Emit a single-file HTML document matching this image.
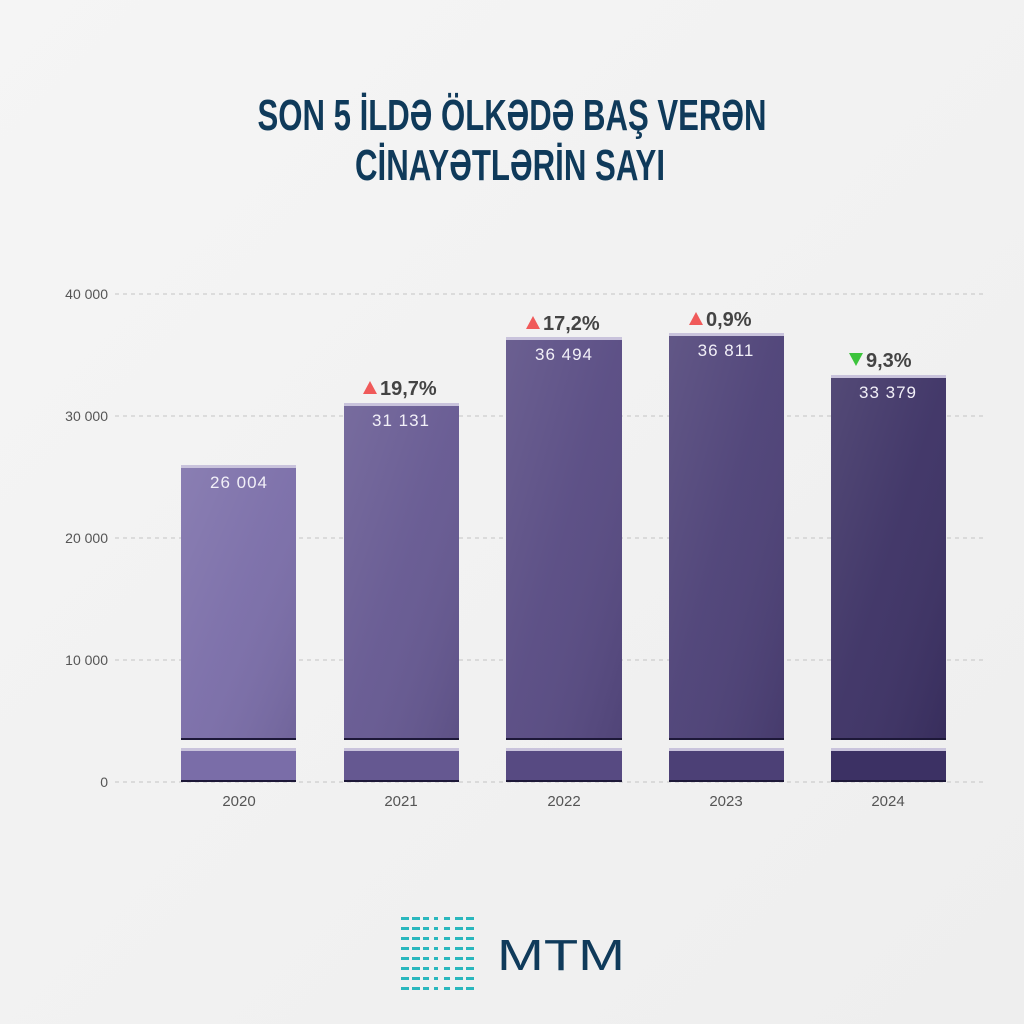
<!DOCTYPE html>
<html><head><meta charset="utf-8"><style>
html,body{margin:0;padding:0;background:#f2f2f2;}
svg{display:block}
</style></head><body>
<svg width="1024" height="1024" viewBox="0 0 1024 1024" xmlns="http://www.w3.org/2000/svg" font-family="Liberation Sans, DejaVu Sans, sans-serif">
<defs>
<linearGradient id="bg" x1="0" y1="0" x2="1" y2="1"><stop offset="0" stop-color="#f5f5f5"/><stop offset="1" stop-color="#eeeeee"/></linearGradient>
<linearGradient id="sh" x1="0" y1="0" x2="1" y2="1"><stop offset="0" stop-color="#fff" stop-opacity="0.12"/><stop offset="0.5" stop-color="#fff" stop-opacity="0.04"/><stop offset="1" stop-color="#000" stop-opacity="0.08"/></linearGradient>
</defs>
<rect width="1024" height="1024" fill="url(#bg)"/>
<g fill="#0f3a5a" font-weight="bold" font-size="44" text-anchor="middle">
<text x="512" y="130" textLength="509" lengthAdjust="spacingAndGlyphs">SON 5 İLDƏ ÖLKƏDƏ BAŞ VERƏN</text>
<text x="510" y="180" textLength="310" lengthAdjust="spacingAndGlyphs">CİNAYƏTLƏRİN SAYI</text>
</g>
<g stroke="#c4c4c4" stroke-dasharray="4 4" stroke-width="1">
<line x1="115" y1="294" x2="985" y2="294"/><line x1="115" y1="416" x2="985" y2="416"/>
<line x1="115" y1="538" x2="985" y2="538"/><line x1="115" y1="660" x2="985" y2="660"/>
<line x1="115" y1="782" x2="985" y2="782"/>
</g>
<g fill="#555" font-size="14" text-anchor="end">
<text x="108" y="299">40 000</text><text x="108" y="421">30 000</text><text x="108" y="543">20 000</text><text x="108" y="665">10 000</text><text x="108" y="787">0</text>
</g>
<!-- bars -->
<g>
<rect x="181" y="465" width="115" height="275" fill="#7a6da8"/><rect x="181" y="748" width="115" height="34" fill="#7a6da8"/>
<rect x="344" y="403" width="115" height="337" fill="#655891"/><rect x="344" y="748" width="115" height="34" fill="#655891"/>
<rect x="506" y="337" width="116" height="403" fill="#574a82"/><rect x="506" y="748" width="116" height="34" fill="#574a82"/>
<rect x="669" y="333" width="115" height="407" fill="#4c4076"/><rect x="669" y="748" width="115" height="34" fill="#4c4076"/>
<rect x="831" y="375" width="115" height="365" fill="#3c3164"/><rect x="831" y="748" width="115" height="34" fill="#3c3164"/>
</g>
<g fill="url(#sh)">
<rect x="181" y="465" width="115" height="275"/><rect x="344" y="403" width="115" height="337"/><rect x="506" y="337" width="116" height="403"/><rect x="669" y="333" width="115" height="407"/><rect x="831" y="375" width="115" height="365"/>
</g>
<g fill="#c9c3dc">
<rect x="181" y="465" width="115" height="3"/><rect x="344" y="403" width="115" height="3"/><rect x="506" y="337" width="116" height="3"/><rect x="669" y="333" width="115" height="3"/><rect x="831" y="375" width="115" height="3"/>
<rect x="181" y="748" width="115" height="3"/><rect x="344" y="748" width="115" height="3"/><rect x="506" y="748" width="116" height="3"/><rect x="669" y="748" width="115" height="3"/><rect x="831" y="748" width="115" height="3"/>
</g>
<g fill="#1d1838">
<rect x="181" y="738" width="115" height="2"/><rect x="344" y="738" width="115" height="2"/><rect x="506" y="738" width="116" height="2"/><rect x="669" y="738" width="115" height="2"/><rect x="831" y="738" width="115" height="2"/>
<rect x="181" y="780" width="115" height="2"/><rect x="344" y="780" width="115" height="2"/><rect x="506" y="780" width="116" height="2"/><rect x="669" y="780" width="115" height="2"/><rect x="831" y="780" width="115" height="2"/>
</g>
<g fill="#f2f0f8" font-size="17" text-anchor="middle" letter-spacing="1">
<text x="239" y="488">26 004</text><text x="401" y="426">31 131</text><text x="564" y="360">36 494</text><text x="726" y="356">36 811</text><text x="888" y="398">33 379</text>
</g>
<g fill="#444" font-size="20" font-weight="bold">
<text x="380" y="395">19,7%</text><text x="543" y="330">17,2%</text><text x="706" y="326">0,9%</text><text x="866" y="367">9,3%</text>
</g>
<g fill="#f05a5a">
<polygon points="363,394 377,394 370,381"/><polygon points="526,329 540,329 533,316"/><polygon points="689,325 703,325 696,312"/>
</g>
<polygon points="849,353 863,353 856,366" fill="#3cc43c"/>
<g fill="#555" font-size="15" text-anchor="middle">
<text x="239" y="806">2020</text><text x="401" y="806">2021</text><text x="564" y="806">2022</text><text x="726" y="806">2023</text><text x="888" y="806">2024</text>
</g>
<g fill="#2ab7bd">
<g id="r">
<rect x="401" y="917" width="8" height="3"/><rect x="412" y="917" width="8" height="3"/><rect x="423" y="917" width="6" height="3"/><rect x="434" y="917" width="4" height="3"/><rect x="444" y="917" width="6" height="3"/><rect x="455" y="917" width="8" height="3"/><rect x="466" y="917" width="8" height="3"/>
</g>
<use href="#r" y="10"/><use href="#r" y="20"/><use href="#r" y="30"/><use href="#r" y="40"/><use href="#r" y="50"/><use href="#r" y="60"/><use href="#r" y="70"/>
</g>
<text x="561" y="970" fill="#0f3a5a" font-size="44" text-anchor="middle" textLength="128" lengthAdjust="spacingAndGlyphs">MTM</text>
</svg>
</body></html>
